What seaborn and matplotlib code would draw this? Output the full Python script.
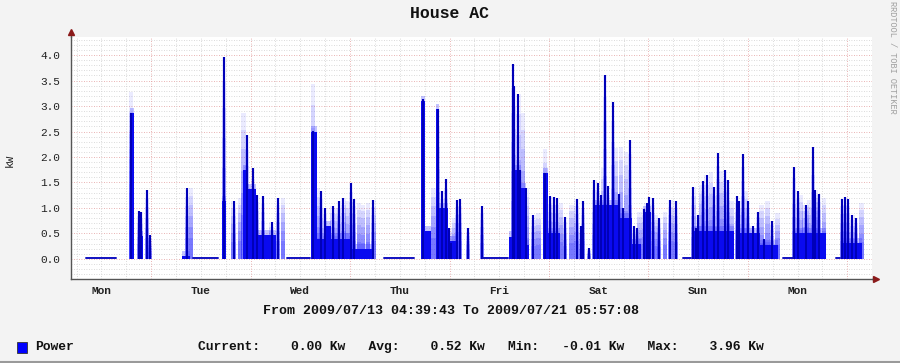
import numpy as np
import pandas as pd
import matplotlib
matplotlib.use("Agg")
import matplotlib.pyplot as plt
import seaborn as sns
from matplotlib.patches import Rectangle
from matplotlib.lines import Line2D
from matplotlib.ticker import FixedLocator

# ---------------- data (hours since START, kW) ----------------
START = pd.Timestamp("2009-07-13 04:39:43")
END = pd.Timestamp("2009-07-21 05:57:08")

day_labels = ["Mon", "Tue", "Wed", "Thu", "Fri", "Sat", "Sun", "Mon"]

# near-zero idle readings
idle_start_h = [3.6, 29.4, 52.1, 75.5, 99.4, 147.7, 171.8, 184.6]
idle_end_h = [10.9, 35.5, 57.7, 82.8, 105.5, 149.6, 174.2, 185.6]

# sustained load blocks
body_start_h = [14.24, 16.17, 26.79, 36.44, 41.51, 42.71, 44.64, 57.92, 59.36, 61.53, 67.81,
                84.46, 85.42, 88.08, 88.80, 90.97, 105.69, 106.42, 108.59, 109.80, 113.90,
                115.11, 125.97, 132.00, 135.38, 138.03, 150.10, 160.71, 166.26, 174.47, 186.05]
body_end_h = [15.20, 17.37, 28.72, 37.40, 42.71, 44.64, 49.47, 59.36, 67.81, 62.74, 73.12,
              85.42, 86.87, 88.80, 90.97, 92.90, 106.42, 108.59, 109.80, 110.52, 115.11,
              118.00, 132.00, 135.38, 137.55, 139.96, 159.99, 166.26, 170.61, 182.19, 190.88]
body_kw = [2.87, 0.45, 0.05, 1.13, 1.75, 1.38, 0.47, 2.50, 0.40, 0.64, 0.20,
           3.10, 0.55, 2.94, 1.00, 0.35, 0.44, 1.75, 1.39, 0.28, 1.69,
           0.50, 1.05, 0.80, 0.30, 0.93, 0.55, 0.50, 0.28, 0.50, 0.32]

# sharp compressor peaks
spike_h = [14.48, 16.41, 16.89, 18.34, 19.06, 27.99, 36.92, 39.33, 42.47, 43.92, 44.88,
           46.33, 48.50, 49.95, 58.40, 60.33, 61.29, 63.22, 64.67, 65.64, 67.57, 68.29,
           72.88, 84.94, 88.56, 89.53, 90.49, 91.22, 91.70, 93.15, 93.87, 95.80, 99.18,
           106.66, 106.90, 107.87, 108.35, 109.80, 111.49, 114.38, 115.59, 116.55, 117.28,
           119.21, 122.10, 123.07, 123.55, 125.00, 126.21, 127.17, 127.90, 128.86, 129.58,
           130.79, 132.24, 133.20, 134.89, 135.86, 136.58, 138.27, 138.99, 139.48, 140.44,
           141.89, 144.55, 145.99, 150.10, 150.82, 151.30, 152.51, 153.47, 155.16, 156.13,
           157.82, 158.54, 160.71, 161.20, 162.16, 163.37, 164.57, 165.78, 167.23, 169.16,
           174.47, 175.43, 177.37, 179.05, 179.54, 180.50, 186.05, 186.78, 187.50, 188.47,
           189.43]
spike_kw = [2.87, 0.95, 0.92, 1.35, 0.47, 1.39, 3.96, 1.13, 2.44, 1.79, 1.26,
            1.23, 0.72, 1.20, 2.51, 1.33, 1.00, 1.03, 1.13, 1.20, 1.49, 1.18,
            1.16, 3.13, 2.94, 1.33, 1.56, 0.60, 0.31, 1.16, 1.18, 0.60, 1.03,
            3.82, 3.40, 3.23, 1.75, 1.39, 0.87, 1.69, 1.23, 1.21, 1.20,
            0.82, 1.18, 0.64, 1.14, 0.21, 1.54, 1.49, 1.26, 3.61, 1.43,
            3.07, 1.27, 1.00, 2.33, 0.64, 0.60, 0.97, 1.10, 1.22, 1.20,
            0.80, 1.16, 1.13, 1.41, 0.60, 0.87, 1.52, 1.64, 1.41, 2.08,
            1.75, 1.54, 1.24, 1.14, 2.05, 1.13, 0.64, 0.93, 0.40, 0.75,
            1.81, 1.34, 1.06, 2.20, 1.36, 1.27, 1.18, 1.21, 1.18, 0.87,
            0.80]

# blurred (sub-pixel) peaks
haze_h = [14.48, 28.96, 40.78, 41.51, 51.16, 58.40, 59.60, 63.95, 66.60, 69.50, 70.46,
          71.67, 87.36, 92.42, 109.07, 112.93, 114.38, 118.24, 120.66, 128.38, 131.51,
          132.72, 133.93, 137.07, 141.17, 143.34, 152.03, 154.44, 156.85, 159.27, 162.88,
          166.51, 168.19, 170.37, 176.16, 176.88, 178.09, 180.26, 181.71, 190.64]
haze_kw = [3.27, 1.40, 1.20, 2.87, 1.20, 3.43, 1.39, 1.00, 1.13, 1.10, 1.06,
           1.10, 1.39, 0.80, 2.87, 0.90, 2.15, 1.10, 1.06, 1.79, 2.18,
           2.20, 2.10, 0.93, 0.87, 0.93, 1.45, 1.70, 1.72, 1.13, 1.33,
           1.06, 1.13, 0.90, 1.26, 1.06, 1.16, 1.26, 1.20, 1.10]

legend_name = "Power"
legend_stats = "Current:    0.00 Kw   Avg:    0.52 Kw   Min:   -0.01 Kw   Max:    3.96 Kw"

# ---------------- figure ----------------
sns.set_theme(style="white")
plt.rcParams["font.family"] = ["Liberation Mono", "DejaVu Sans Mono"]
MONO = ["Liberation Mono", "DejaVu Sans Mono"]

span_h = (END - START).total_seconds() / 3600.0
first_midnight = (START.normalize() + pd.Timedelta(days=1) - START).total_seconds() / 3600.0

fig = plt.figure(figsize=(9.0, 3.63), dpi=100, facecolor="#f3f3f3")
ax = fig.add_axes([71 / 900, 1 - 279 / 363, 801 / 900, 242 / 363])
ax.set_facecolor("white")
ax.set_xlim(0, span_h)
ax.set_ylim(-0.394, 4.355)

# grid
for v in np.arange(-0.3, 4.36, 0.1):
    major = abs(v / 0.5 - round(v / 0.5)) < 1e-6 and v > -0.01
    ax.axhline(v, color="#e29a9a" if major else "#cfcfcf", lw=0.6,
               ls=(0, (1, 2)), zorder=0)
for v in np.arange(first_midnight - 18, span_h, 6):
    major = abs(((v - first_midnight) / 24) - round((v - first_midnight) / 24)) < 1e-6
    ax.axvline(v, color="#e29a9a" if major else "#cfcfcf", lw=0.6,
               ls=(0, (1, 2)), zorder=0)

# blurred halo around peaks (fades toward the top)
all_h = np.array(spike_h + haze_h)
all_kw = np.array(spike_kw + haze_kw)
for frac, alpha in [(1.0, 0.09), (0.88, 0.11), (0.75, 0.13), (0.6, 0.16),
                    (0.45, 0.19), (0.3, 0.22)]:
    ax.bar(all_h, all_kw * frac, width=1.2, color="#2a2aff", alpha=alpha,
           linewidth=0, zorder=2)

# sustained blocks, with a soft top edge
bw = np.array(body_end_h) - np.array(body_start_h)
ax.bar(body_start_h, np.array(body_kw) + 0.1, width=bw, align="edge",
       color="#3a3aff", alpha=0.3, linewidth=0, zorder=3)
ax.bar(body_start_h, body_kw, width=bw, align="edge", color="#0a0af0",
       linewidth=0, zorder=3)
# peaks
ax.bar(spike_h, spike_kw, width=0.3, color="#0000b8", linewidth=0, zorder=4)

# idle readings via seaborn
rows = []
for i, (s, e) in enumerate(zip(idle_start_h, idle_end_h)):
    rows.append({"seg": i, "h": s, "kw": 0.015})
    rows.append({"seg": i, "h": e, "kw": 0.015})
idle_df = pd.DataFrame(rows)
sns.lineplot(data=idle_df, x="h", y="kw", units="seg", estimator=None,
             color="#1010c0", lw=1.4, ax=ax, zorder=4, legend=False)

# axes styling
for s in ["top", "right"]:
    ax.spines[s].set_visible(False)
for s in ["left", "bottom"]:
    ax.spines[s].set_color("#555555")
    ax.spines[s].set_linewidth(1.0)
ax.plot([0, 0], [1.0, 1.02], color="#555555", lw=1.0, transform=ax.transAxes, clip_on=False)
ax.plot([1.0, 1.004], [0, 0], color="#555555", lw=1.0, transform=ax.transAxes, clip_on=False)
ax.plot([0], [1.022], marker="^", ms=4.5, color="#8b1a1a", transform=ax.transAxes, clip_on=False)
ax.plot([1.005], [0], marker=">", ms=4.5, color="#8b1a1a", transform=ax.transAxes, clip_on=False)

noons = [first_midnight - 12 + 24 * k for k in range(len(day_labels))]
mids = [first_midnight + 24 * k for k in range(8)]
ax.set_xticks(noons)
ax.set_xticklabels(day_labels, family=MONO, fontsize=8, fontweight="bold", color="#222222")
ax.xaxis.set_minor_locator(FixedLocator(mids))
ax.tick_params(axis="x", which="major", length=0, pad=5)
ax.tick_params(axis="x", which="minor", length=3, width=0.8, color="#555555", direction="out")
yt = np.arange(0, 4.01, 0.5)
ax.set_yticks(yt)
ax.set_yticklabels([f"{v:.1f}" for v in yt], family=MONO, fontsize=8, color="#222222")
ax.tick_params(axis="y", length=2, width=0.8, color="#555555", pad=6)
ax.set_xlabel("")
ax.set_ylabel("")

# texts
fig.text(0.5, 1 - 13 / 363, "House AC", ha="center", va="center", family=MONO,
         fontsize=11.9, fontweight="bold", color="#111111")
fig.text(10 / 900, 1 - 160 / 363, "kW", rotation=90, ha="center", va="center",
         family=MONO, fontsize=8, color="#222222")
fig.text(893 / 900, 1 - 57 / 363, "RRDTOOL / TOBI OETIKER", rotation=270, ha="center",
         va="center", family=MONO, fontsize=6.2, color="#a0a0a0")
fig.text(451 / 900, 1 - 311 / 363,
         f"From {START:%Y/%m/%d %H:%M:%S} To {END:%Y/%m/%d %H:%M:%S}",
         ha="center", va="center", family=MONO, fontsize=9.5, fontweight="bold",
         color="#111111")
fig.patches.append(Rectangle((17 / 900, 1 - 353 / 363), 10 / 900, 11 / 363,
                             transform=fig.transFigure, facecolor="#0000ff",
                             edgecolor="#333333", lw=0.6))
fig.text(35 / 900, 1 - 347 / 363, legend_name, ha="left", va="center", family=MONO,
         fontsize=9.4, fontweight="bold", color="#111111")
fig.text(198 / 900, 1 - 347 / 363, legend_stats, ha="left", va="center", family=MONO,
         fontsize=9.4, fontweight="bold", color="#111111")
fig.add_artist(Line2D([0, 1], [0.003, 0.003], color="#9a9a9a", lw=1.5,
                      transform=fig.transFigure))

fig.savefig("out.png", dpi=100, facecolor=fig.get_facecolor())
